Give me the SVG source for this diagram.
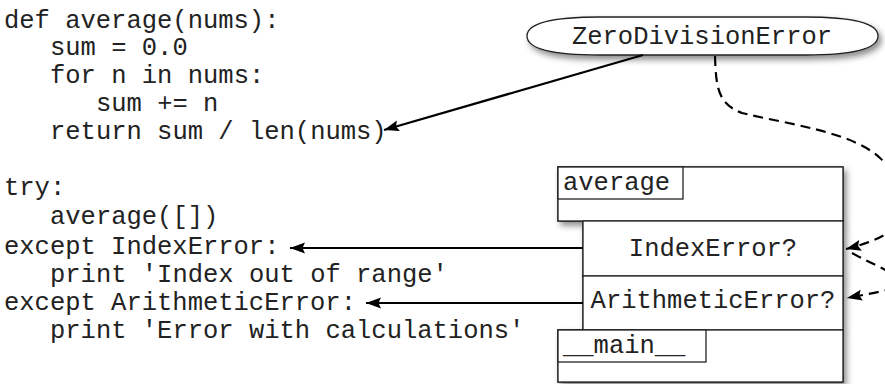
<svg xmlns="http://www.w3.org/2000/svg" width="885" height="384" viewBox="0 0 885 384">
  <style>
    .t { font-family: "Liberation Mono", "Courier New", monospace; font-size: 25.5px; fill: #222; }
    .box { fill: #fff; stroke: #222; stroke-width: 1.3; }
    .edge { fill: none; stroke: #000; stroke-width: 2.2; }
    .dash { fill: none; stroke: #000; stroke-width: 2.2; stroke-dasharray: 10 6; }
  </style>
  <defs>
    <marker id="arrow" markerUnits="userSpaceOnUse" markerWidth="20" markerHeight="16" viewBox="-16 -8 20 16" refX="0" refY="0" orient="auto" overflow="visible">
      <path d="M0,0 L-15,-5.5 L-12.5,0 L-15,5.5 Z" fill="#000"/>
    </marker>
    <filter id="shadow" x="-10%" y="-20%" width="130%" height="160%">
      <feDropShadow dx="3" dy="4" stdDeviation="3" flood-color="#000" flood-opacity="0.45"/>
    </filter>
  </defs>

  <rect width="885" height="384" fill="#fff"/>

  <g id="code">
    <text class="t" x="4" y="28">def average(nums):</text>
    <text class="t" x="50" y="55">sum = 0.0</text>
    <text class="t" x="50" y="83">for n in nums:</text>
    <text class="t" x="96" y="111">sum += n</text>
    <text class="t" x="50" y="139">return sum / len(nums)</text>
    <text class="t" x="4" y="195">try:</text>
    <text class="t" x="50" y="224">average([])</text>
    <text class="t" x="4" y="254">except IndexError:</text>
    <text class="t" x="50" y="282">print 'Index out of range'</text>
    <text class="t" x="4" y="310">except ArithmeticError:</text>
    <text class="t" x="50" y="338">print 'Error with calculations'</text>
  </g>

  <g id="zerodivisionerror">
    <path class="box" d="M527,36 C527,21 560,17 600,17 L805,17 C848,17 878,22 878,36 C878,50 848,55 805,55 L600,55 C560,55 527,51 527,36 Z" filter="url(#shadow)"/>
    <text class="t" x="702" y="44" text-anchor="middle">ZeroDivisionError</text>
  </g>

  <g id="stack" filter="url(#shadow)">
    <rect class="box" x="558" y="167" width="285" height="54"/>
    <rect class="box" x="583" y="221" width="260" height="55"/>
    <rect class="box" x="583" y="276" width="260" height="54"/>
    <rect class="box" x="558" y="330" width="285" height="52"/>
  </g>

  <g id="average-frame">
    <rect class="box" x="558" y="167" width="285" height="54"/>
    <rect class="box" x="558" y="167" width="125" height="32"/>
    <text class="t" x="563" y="190">average</text>
  </g>

  <g id="indexerror">
    <rect class="box" x="583" y="221" width="260" height="55"/>
    <text class="t" x="713" y="256" text-anchor="middle">IndexError?</text>
  </g>

  <g id="arithmeticerror">
    <rect class="box" x="583" y="276" width="260" height="54"/>
    <text class="t" x="713" y="308" text-anchor="middle">ArithmeticError?</text>
  </g>

  <g id="main-frame">
    <rect class="box" x="558" y="330" width="285" height="52"/>
    <rect class="box" x="558" y="330" width="148" height="32"/>
    <text class="t" x="563" y="353">__main__</text>
  </g>

  <g id="connectors">
    <path class="edge" d="M643,55 L384,130" marker-end="url(#arrow)"/>
    <path class="edge" d="M583,248 L290,248" marker-end="url(#arrow)"/>
    <path class="edge" d="M583,303 L366,303" marker-end="url(#arrow)"/>
    <path class="dash" d="M715,56 C716,88 718,104 742,113 C792,125 852,132 880,158 C906,182 906,222 886,234 C874,241 862,245 846,249" marker-end="url(#arrow)"/>
    <path class="dash" d="M852,253 C875,266 900,274 899,283 C897,290 872,293 847,298" marker-end="url(#arrow)"/>
  </g>
</svg>
